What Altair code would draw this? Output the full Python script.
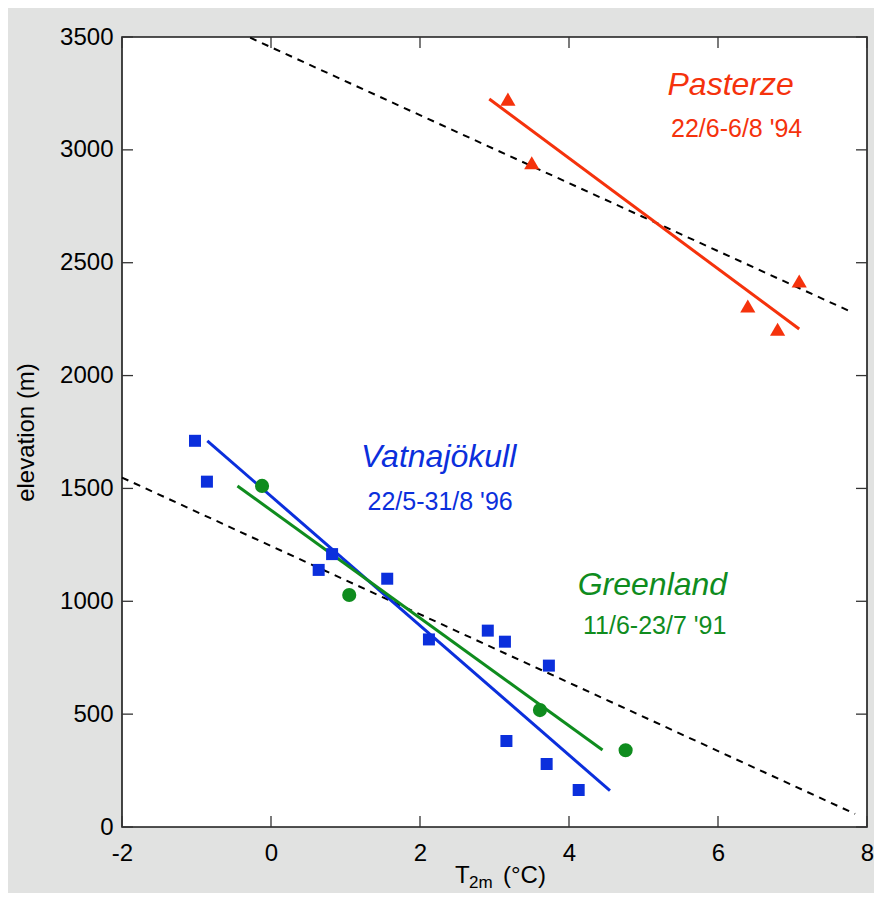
import altair as alt
import pandas as pd

# ---------------- data ----------------
x_ticks = [-2, 0, 2, 4, 6, 8]
y_ticks = [0, 500, 1000, 1500, 2000, 2500, 3000, 3500]

vat_x = [-1.02, -0.86, 0.82, 0.64, 1.56, 2.12, 2.91, 3.14, 3.73, 3.16, 3.70, 4.13]
vat_y = [1711, 1530, 1209, 1139, 1100, 831, 870, 821, 715, 381, 279, 164]

grl_x = [-0.12, 1.05, 3.61, 4.76]
grl_y = [1511, 1028, 518, 340]

pas_x = [3.18, 3.50, 6.40, 6.80, 7.09]
pas_y = [3225, 2943, 2308, 2205, 2419]

# fitted lines (end points)
vat_fit_x = [-0.855, 4.55]
vat_fit_y = [1711, 161]
grl_fit_x = [-0.45, 4.45]
grl_fit_y = [1511, 341]
pas_fit_x = [2.93, 7.09]
pas_fit_y = [3225, 2206]

# dashed reference lines (end points)
ref_upper_x = [-0.28, 7.77]
ref_upper_y = [3497, 2285]
ref_lower_x = [-2.0, 7.84]
ref_lower_y = [1548, 58]

names = ["Vatnajökull", "Greenland", "Pasterze"]
dates = ["22/5-31/8 '96", "11/6-23/7 '91", "22/6-6/8 '94"]
name_x = [2.25, 5.12, 6.17]
name_y = [1595, 1028, 3243]
date_x = [2.27, 5.15, 6.25]
date_y = [1404, 855, 3057]

BLUE = "#0b2fdc"
GREEN = "#0f8c1e"
RED = "#f5320c"
FONT = "Liberation Sans"

W, H = 745, 790

# ---------------- shared scales / axes ----------------
xs = alt.Scale(domain=[-2, 8], nice=False, zero=False)
ys = alt.Scale(domain=[0, 3500], nice=False, zero=False)
cs = alt.Scale(domain=names, range=[BLUE, GREEN, RED])

X_AXIS = alt.Axis(
    values=x_ticks, title=None, ticks=False, domain=False, grid=False,
    labelFontSize=24, labelFont=FONT, labelColor="black", labelPadding=14,
    labelFlush=False, labelExpr="'' + datum.value")
Y_AXIS = alt.Axis(
    values=y_ticks, title="elevation (m)", ticks=False, domain=False, grid=False,
    labelFontSize=24, labelFont=FONT, labelColor="black", labelPadding=9,
    labelExpr="'' + datum.value",
    titleFontSize=24, titleFont=FONT, titleFontWeight="normal", titleColor="black",
    titleAngle=270, titleX=-89, titleY=395, titleBaseline="alphabetic",
    titleAlign="center")


def X():
    return alt.X("x:Q", scale=xs, axis=X_AXIS)


def Y():
    return alt.Y("y:Q", scale=ys, axis=Y_AXIS)


# ---------------- dashed reference lines ----------------
ref_df = pd.DataFrame({
    "x": ref_upper_x + ref_lower_x,
    "y": ref_upper_y + ref_lower_y,
    "g": ["u", "u", "l", "l"],
})
ref = alt.Chart(ref_df).mark_line(color="black", strokeWidth=2, strokeDash=[7, 6]).encode(
    x=X(), y=Y(), detail="g:N")

# ---------------- fitted lines ----------------
fit_df = pd.DataFrame({
    "x": vat_fit_x + grl_fit_x + pas_fit_x,
    "y": vat_fit_y + grl_fit_y + pas_fit_y,
    "s": [names[0]] * 2 + [names[1]] * 2 + [names[2]] * 2,
})
fits = alt.Chart(fit_df).mark_line(strokeWidth=3).encode(
    x=X(), y=Y(),
    color=alt.Color("s:N", scale=cs, legend=None),
    detail="s:N",
)

# ---------------- points ----------------
vat_pts = alt.Chart(pd.DataFrame({"x": vat_x, "y": vat_y})).mark_point(
    shape="square", filled=True, size=144, color=BLUE, opacity=1).encode(x=X(), y=Y())
grl_pts = alt.Chart(pd.DataFrame({"x": grl_x, "y": grl_y})).mark_point(
    shape="circle", filled=True, size=200, color=GREEN, opacity=1).encode(x=X(), y=Y())
pas_pts = alt.Chart(pd.DataFrame({"x": pas_x, "y": pas_y})).mark_point(
    shape="triangle-up", filled=True, size=230, color=RED, opacity=1).encode(x=X(), y=Y())

# ---------------- annotations ----------------
name_df = pd.DataFrame({"x": name_x, "y": name_y, "t": names})
date_df = pd.DataFrame({"x": date_x, "y": date_y, "t": names, "d": dates})
name_txt = alt.Chart(name_df).mark_text(
    font=FONT, fontSize=32, fontStyle="italic", align="center", baseline="alphabetic").encode(
    x=X(), y=Y(), text="t:N", color=alt.Color("t:N", scale=cs, legend=None))
date_txt = alt.Chart(date_df).mark_text(
    font=FONT, fontSize=25, align="center", baseline="alphabetic").encode(
    x=X(), y=Y(), text="d:N", color=alt.Color("t:N", scale=cs, legend=None))

# ---------------- inward ticks on all four sides ----------------
xt_df = pd.DataFrame({"x": x_ticks})
yt_df = pd.DataFrame({"y": y_ticks})
TICK = dict(color="#333333", strokeWidth=1.3)
xt_bottom = alt.Chart(xt_df).mark_rule(**TICK).encode(
    x=X(), y=alt.value(H), y2=alt.value(H - 11))
xt_top = alt.Chart(xt_df).mark_rule(**TICK).encode(
    x=X(), y=alt.value(0), y2=alt.value(11))
yt_left = alt.Chart(yt_df).mark_rule(**TICK).encode(
    y=Y(), x=alt.value(0), x2=alt.value(11))
yt_right = alt.Chart(yt_df).mark_rule(**TICK).encode(
    y=Y(), x=alt.value(W), x2=alt.value(W - 11))

# ---------------- x-axis title with subscript ----------------
one = pd.DataFrame({"a": [0]})
t_main = alt.Chart(one).mark_text(text="T", font=FONT, fontSize=24, align="left",
                                  baseline="alphabetic", color="black").encode(
    x=alt.value(333), y=alt.value(846))
t_sub = alt.Chart(one).mark_text(text="2m", font=FONT, fontSize=17, align="left",
                                 baseline="alphabetic", color="black").encode(
    x=alt.value(347), y=alt.value(851))
t_unit = alt.Chart(one).mark_text(text="(°C)", font=FONT, fontSize=24, align="left",
                                  baseline="alphabetic", color="black").encode(
    x=alt.value(381), y=alt.value(846))

chart = alt.layer(
    ref, fits, vat_pts, grl_pts, pas_pts, name_txt, date_txt,
    xt_bottom, xt_top, yt_left, yt_right, t_main, t_sub, t_unit,
).properties(
    width=W, height=H,
    autosize=alt.AutoSizeParams(type="none"),
    padding={"left": 114, "top": 29, "right": 7, "bottom": 66},
    background="#e1e2e1",
).configure_view(
    fill="white", stroke="#1a1a1a", strokeWidth=1.6,
)

chart.save("out.html", embed_options={"renderer": "svg", "actions": False})
